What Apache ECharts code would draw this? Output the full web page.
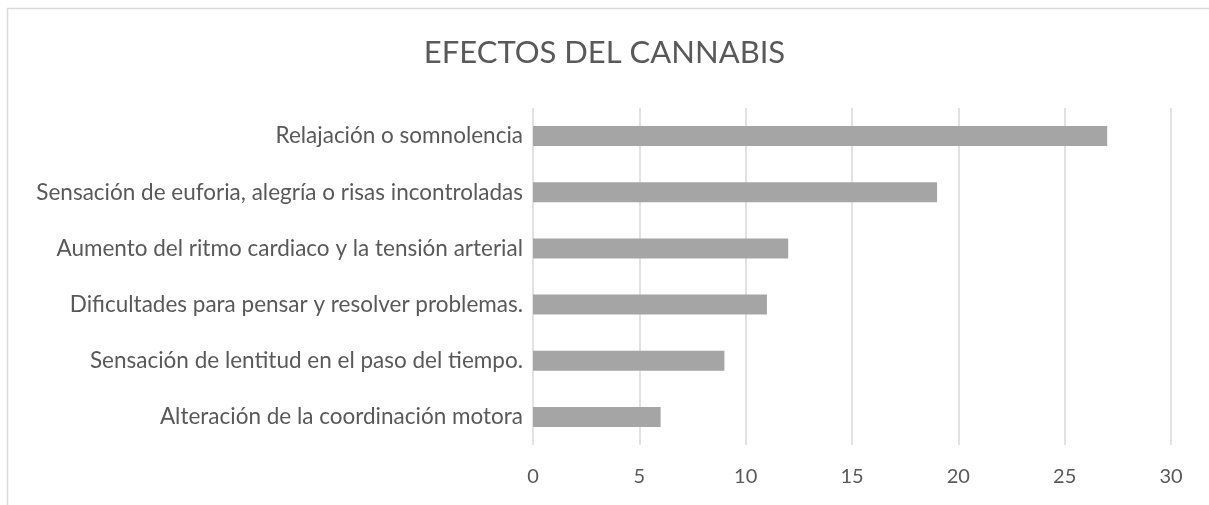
<!DOCTYPE html>
<html><head><meta charset="utf-8">
<script src="https://cdn.jsdelivr.net/npm/echarts@6/dist/echarts.min.js"></script>
<style>html,body{margin:0;padding:0;background:#fff}#c{width:1209px;height:505px}</style>
</head><body><div id="c"></div>
<script>
const title = "EFECTOS DEL CANNABIS";
const categories = [
  "Alteración de la coordinación motora",
  "Sensación de lentitud en el paso del tiempo.",
  "Dificultades para pensar y resolver problemas.",
  "Aumento del ritmo cardiaco y la tensión arterial",
  "Sensación de euforia, alegría o risas incontroladas",
  "Relajación o somnolencia"
];
const values = [6, 9, 11, 12, 19, 27];
const xTicks = { min: 0, max: 30, interval: 5 };

const chart = echarts.init(document.getElementById('c'), null, {renderer: 'canvas'});
chart.setOption({
  animation: false,
  backgroundColor: '#fff',
  graphic: [{
    type: 'rect', silent: true,
    shape: {x: 7.5, y: 8.5, width: 1400, height: 700},
    style: {fill: 'none', stroke: '#d9d9d9', lineWidth: 1.5}
  }],
  title: {
    text: title, left: 'center', top: 32,
    textStyle: {fontFamily: 'Lato', fontWeight: 400, fontSize: 31, color: '#595959'}
  },
  grid: {left: 533, right: 38, top: 108, height: 337, containLabel: false},
  xAxis: {
    type: 'value', min: xTicks.min, max: xTicks.max, interval: xTicks.interval,
    axisLine: {show: false}, axisTick: {show: false},
    splitLine: {lineStyle: {color: '#d9d9d9', width: 1.5}},
    axisLabel: {fontFamily: 'Lato', fontSize: 20, color: '#595959', margin: 22}
  },
  yAxis: {
    type: 'category', data: categories,
    axisLine: {show: false}, axisTick: {show: false},
    axisLabel: {fontFamily: 'Lato', fontSize: 22.5, color: '#595959', margin: 10}
  },
  series: [{
    type: 'bar', data: values, barWidth: 20,
    itemStyle: {color: '#a5a5a5'}
  }]
});
</script></body></html>
